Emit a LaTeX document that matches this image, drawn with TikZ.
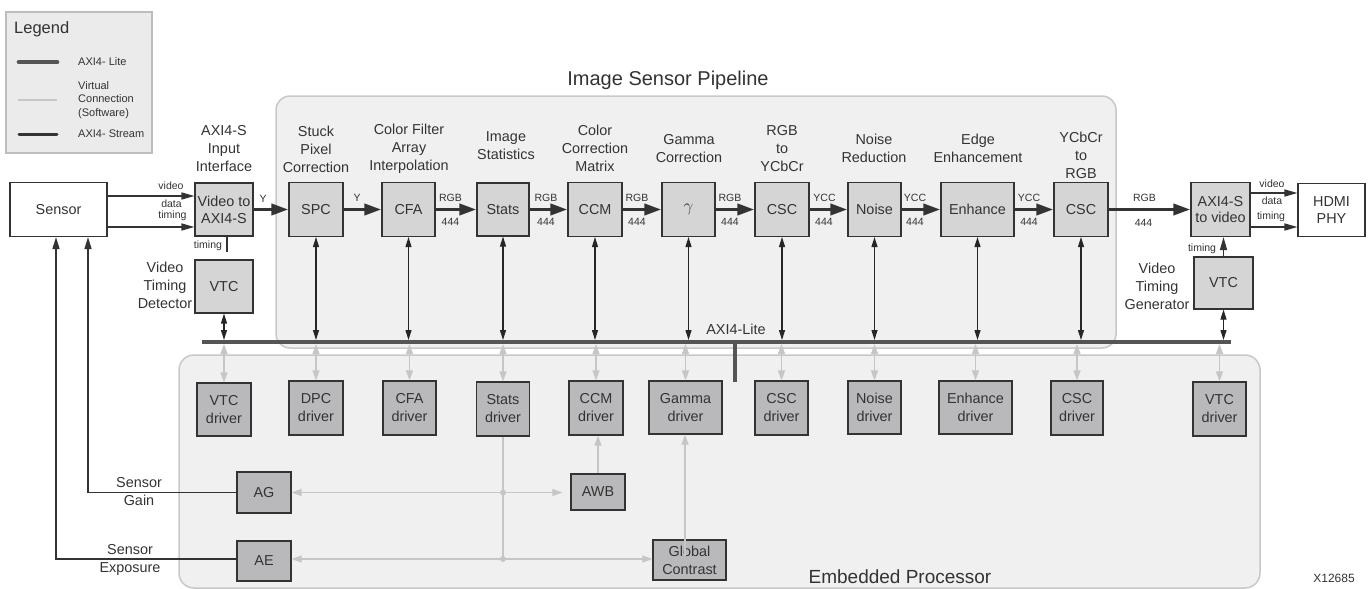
\documentclass[tikz,border=0pt]{standalone}
\usepackage{fontspec}
\setmainfont{Liberation Sans}
\usetikzlibrary{arrows.meta}
\definecolor{txt}{HTML}{333333}
\definecolor{regfill}{HTML}{F0F0F0}
\definecolor{regline}{HTML}{C8C8C8}
\definecolor{pfill}{HTML}{D5D5D5}
\definecolor{dfill}{HTML}{B9B9BC}
\definecolor{boxline}{HTML}{333333}
\definecolor{strm}{HTML}{333333}
\definecolor{busc}{HTML}{555555}
\definecolor{vcol}{HTML}{C6C6C6}
\definecolor{legfill}{HTML}{EBEBEB}
\definecolor{legline}{HTML}{BDBDBD}
\newcommand\fsA{\fontsize{14.4}{18}\selectfont}
\newcommand\fsB{\fontsize{14.4}{16.8}\selectfont}
\newcommand\fsS{\fontsize{10.5}{12}\selectfont}
\newcommand\fsT{\fontsize{20}{24}\selectfont}
\newcommand\fsE{\fontsize{19}{23}\selectfont}
\newcommand\fsL{\fontsize{16.5}{20}\selectfont}
\newcommand\fsLeg{\fontsize{11}{13.5}\selectfont}
\newcommand\fsX{\fontsize{12}{14}\selectfont}
\begin{document}
\begin{tikzpicture}[x=1pt,y=-1pt,
  every node/.style={text=txt, inner sep=0pt},
  pbox/.style={draw=boxline, fill=pfill, line width=1.1pt, font=\fsB, align=center},
  dbox/.style={draw=boxline, fill=dfill, line width=1.1pt, font=\fsA, align=center},
  wbox/.style={draw=boxline, fill=white, line width=1.1pt, font=\fsB, align=center},
  lbl/.style={font=\fsA, align=center},
  sml/.style={font=\fsS},
  stream/.style={draw=strm, line width=3.6pt, -{Triangle[length=17pt,width=11pt]}},
  sig/.style={draw=strm, line width=1.4pt, -{Triangle[length=13pt,width=7pt]}},
  sigl/.style={draw=strm, line width=1.4pt},
  dbl/.style={draw=black!85, line width=1.1pt, {Triangle[length=10pt,width=6pt]}-{Triangle[length=10pt,width=6pt]}},
  virt/.style={draw=vcol, line width=1.3pt, {Triangle[length=10pt,width=7pt]}-{Triangle[length=10pt,width=7pt]}},
  virta/.style={draw=vcol, line width=1.3pt, -{Triangle[length=10pt,width=7pt]}},
  virtl/.style={draw=vcol, line width=1.3pt},
  ctrl/.style={draw=strm, line width=1.4pt, -{Triangle[length=12pt,width=7pt]}},
  busline/.style={draw=busc, line width=4pt}
]
\useasboundingbox (0,0) rectangle (1369,589);

% regions
\draw[rounded corners=14pt, draw=regline, fill=regfill, line width=1.5pt] (276,96) rectangle (1116,348);
\draw[rounded corners=15pt, draw=regline, fill=regfill, line width=1.5pt] (179,355) rectangle (1260,588);
\node[font=\fsT] (ttl1) at (668,80) {Image Sensor Pipeline};
\node[font=\fsE] (ttl2) at (900,577) {Embedded Processor};
\node[font=\fsX] (xid) at (1334,578) {X12685};

% legend
\draw[fill=legfill, draw=legline, line width=1.5pt] (6,12) rectangle (152,153);
\node[font=\fsL, anchor=west] (legt) at (14,29) {Legend};
\coordinate (la1) at (19,62); \coordinate (la2) at (57,62);
\draw[draw=busc, line width=4.7pt, line cap=round] (la1) -- (la2);
\node[font=\fsLeg, anchor=west] (legA) at (78,62) {AXI4- Lite};
\coordinate (lb1) at (18,100); \coordinate (lb2) at (57,100);
\draw[virtl] (lb1) -- (lb2);
\node[font=\fsLeg, anchor=west, align=left] (legB) at (78,100) {Virtual\\Connection\\(Software)};
\coordinate (lc1) at (19,134); \coordinate (lc2) at (57,134);
\draw[draw=strm, line width=3pt, line cap=round] (lc1) -- (lc2);
\node[font=\fsLeg, anchor=west] (legC) at (78,134) {AXI4- Stream};

% bus
\coordinate (busL) at (202,342); \coordinate (busR) at (1231,342);
\coordinate (busT) at (0,340); \coordinate (busB) at (0,344);
\draw[busline] (busL) -- (busR);
\coordinate (stubT) at (735,342); \coordinate (stubB) at (735,382);
\draw[busline] (stubT) -- (stubB);
\node[font=\fsA] (buslbl) at (736,329) {AXI4-Lite};

% main row
\node[wbox, minimum width=97pt, minimum height=54pt] (sensor) at (58.5,209.5) {Sensor};
\node[pbox, minimum width=58pt, minimum height=53pt] (v2a) at (224,209.5) {Video to\\AXI4-S};
\node[pbox, minimum width=58pt, minimum height=53pt] (vtcL) at (224,286.5) {VTC};
\node[pbox, minimum width=54pt, minimum height=54pt] (spc) at (316,209.5) {SPC};
\node[pbox, minimum width=53pt, minimum height=54pt] (cfa) at (408.5,209.5) {CFA};
\node[pbox, minimum width=52pt, minimum height=53pt] (stats) at (503,209.5) {Stats};
\node[pbox, minimum width=54pt, minimum height=54pt] (ccm) at (595,209.5) {CCM};
\node[pbox, minimum width=53pt, minimum height=54pt] (gam) at (688.5,209.5) {\fontsize{17}{17}\selectfont$\gamma$};
\node[pbox, minimum width=54pt, minimum height=54pt] (csc1) at (782,209.5) {CSC};
\node[pbox, minimum width=53pt, minimum height=54pt] (noise) at (874.5,209.5) {Noise};
\node[pbox, minimum width=73pt, minimum height=54pt] (enh) at (977.5,209.5) {Enhance};
\node[pbox, minimum width=54pt, minimum height=54pt] (csc2) at (1081,209.5) {CSC};
\node[pbox, minimum width=59pt, minimum height=54pt] (a2v) at (1220.5,209.5) {AXI4-S\\to video};
\node[wbox, minimum width=67pt, minimum height=53pt] (hdmi) at (1331.5,210) {HDMI\\PHY};
\node[pbox, minimum width=59pt, minimum height=52pt] (vtcR) at (1223.5,283) {VTC};

% labels above
\node[lbl] (l0) at (224,149) {AXI4-S\\Input\\Interface};
\node[lbl] (l1) at (316,149) {Stuck\\Pixel\\Correction};
\node[lbl] (l2) at (409,149) {Color Filter\\Array\\Interpolation};
\node[lbl] (l3) at (506,145.5) {Image\\Statistics};
\node[lbl] (l4) at (595,148.5) {Color\\Correction\\Matrix};
\node[lbl] (l5) at (689,148.5) {Gamma\\Correction};
\node[lbl] (l6) at (782,148.5) {RGB\\to\\YCbCr};
\node[lbl] (l7) at (874,148.5) {Noise\\Reduction};
\node[lbl] (l8) at (978,148.5) {Edge\\Enhancement};
\node[lbl] (l9) at (1081,155.5) {YCbCr\\to\\RGB};
\node[lbl] (l10) at (165,285) {Video\\Timing\\Detector};
\node[lbl] (l11) at (1157,286) {Video\\Timing\\Generator};

% drivers
\node[dbox, minimum width=54pt, minimum height=53pt] (dvtcL) at (224,409.5) {VTC\\driver};
\node[dbox, minimum width=54pt, minimum height=54pt] (ddpc) at (316,408) {DPC\\driver};
\node[dbox, minimum width=53pt, minimum height=54pt] (dcfa) at (409.5,408) {CFA\\driver};
\node[dbox, minimum width=53pt, minimum height=54pt] (dstats) at (503,409) {Stats\\driver};
\node[dbox, minimum width=54pt, minimum height=54pt] (dccm) at (596,408) {CCM\\driver};
\node[dbox, minimum width=73pt, minimum height=53pt] (dgam) at (685.5,407.5) {Gamma\\driver};
\node[dbox, minimum width=53pt, minimum height=54pt] (dcsc1) at (781.5,408) {CSC\\driver};
\node[dbox, minimum width=53pt, minimum height=53pt] (dnoise) at (874.5,407.5) {Noise\\driver};
\node[dbox, minimum width=73pt, minimum height=53pt] (denh) at (975.5,407.5) {Enhance\\driver};
\node[dbox, minimum width=52pt, minimum height=54pt] (dcsc2) at (1077,408) {CSC\\driver};
\node[dbox, minimum width=53pt, minimum height=54pt] (dvtcR) at (1219.5,409) {VTC\\driver};
\node[dbox, minimum width=54pt, minimum height=41pt] (ag) at (264,492.5) {AG};
\node[dbox, minimum width=54pt, minimum height=40pt] (ae) at (264,561) {AE};
\node[dbox, minimum width=54pt, minimum height=36pt] (awb) at (598,492) {AWB};
\node[dbox, minimum width=73pt, minimum height=40pt] (gc) at (689.5,560) {Global\\Contrast};

% stream arrows
\draw[stream] (v2a.east) -- (spc.west);
\draw[stream] (spc.east) -- (cfa.west);
\draw[stream] (cfa.east) -- (stats.west);
\draw[stream] (stats.east) -- (ccm.west);
\draw[stream] (ccm.east) -- (gam.west);
\draw[stream] (gam.east) -- (csc1.west);
\draw[stream] (csc1.east) -- (noise.west);
\draw[stream] (noise.east) -- (enh.west);
\draw[stream] (enh.east) -- (csc2.west);
\draw[stream] (csc2.east) -- (a2v.west);

% stream labels
\node[sml] (y1) at (263,199) {Y};
\node[sml] (y2) at (357,198) {Y};
\node[sml] (r1) at (450.5,198) {RGB}; \node[sml] (n1) at (450.5,222) {444};
\node[sml] (r2) at (546,198) {RGB}; \node[sml] (n2) at (546,222) {444};
\node[sml] (r3) at (637,198) {RGB}; \node[sml] (n3) at (637,222) {444};
\node[sml] (r4) at (730,198) {RGB}; \node[sml] (n4) at (730,222) {444};
\node[sml] (c1) at (824.5,198) {YCC}; \node[sml] (m1) at (824,222) {444};
\node[sml] (c2) at (915,198) {YCC}; \node[sml] (m2) at (915,222) {444};
\node[sml] (c3) at (1029,198) {YCC}; \node[sml] (m3) at (1029,222) {444};
\node[sml] (r5) at (1144.5,198) {RGB}; \node[sml] (n5) at (1143.5,223) {444};

% sensor signals
\draw[sig] ([yshift=13.5pt]sensor.east) -- ([yshift=13.5pt]sensor.east -| v2a.west);
\draw[sig] ([yshift=-17.5pt]sensor.east) -- ([yshift=-17.5pt]sensor.east -| v2a.west);
\node[sml] (sv) at (171,186) {video};
\node[sml] (sd) at (171.5,204) {data};
\node[sml] (st) at (172.5,216) {timing};
\coordinate (tmL) at (227,252);
\draw[sigl] (v2a.south -| tmL) -- (tmL);
\node[sml] (tl) at (208,246) {timing};

% hdmi signals
\draw[sig] ([yshift=16.5pt]a2v.east) -- ([yshift=16.5pt]a2v.east -| hdmi.west);
\draw[sig] ([yshift=-17.5pt]a2v.east) -- ([yshift=-17.5pt]a2v.east -| hdmi.west);
\node[sml] (hv) at (1272,184) {video};
\node[sml] (hd) at (1272,201) {data};
\node[sml] (ht) at (1271,217) {timing};
\draw[sig] (vtcR.north) -- (vtcR.north |- a2v.south);
\node[sml] (tr) at (1202,249) {timing};

% pipeline to bus
\foreach \n in {vtcL,spc,cfa,stats,ccm,gam,csc1,noise,enh,csc2,vtcR}
  \draw[dbl] (\n.south) -- (\n.south |- busT);
% bus to drivers
\foreach \n in {dvtcL,ddpc,dcfa,dstats,dccm,dgam,dcsc1,dnoise,denh,dcsc2,dvtcR}
  \draw[virt] (\n.north |- busB) -- (\n.north);

% software connections
\coordinate (j1) at (503,492.5);
\coordinate (j2) at (503,559);
\draw[virtl] (dstats.south) -- (dstats.south |- j2);
\fill[vcol] (j1) circle (3pt);
\fill[vcol] (j2) circle (3pt);
\draw[virta] (j1) -- (j1 -| ag.east);
\draw[virta, shorten >=8pt] (j1) -- (j1 -| awb.west);
\draw[virta] (j2) -- (j2 -| ae.east);
\draw[virta] (j2) -- (j2 -| gc.west);
\draw[virta] (awb.north) -- (awb.north |- dccm.south);
\coordinate (gcv) at (685,556);
\draw[virta] (gcv) -- (gcv |- dgam.south);

% sensor control
\coordinate (g1) at (88,492.5);
\coordinate (e1) at (56,559);
\draw[ctrl] (ag.west) -- (g1) -- (g1 |- sensor.south);
\draw[ctrl] (ae.west |- e1) -- (e1) -- (e1 |- sensor.south);
\node[lbl] (sg) at (139,492) {Sensor\\Gain};
\node[lbl] (se) at (130,560) {Sensor\\Exposure};
\end{tikzpicture}
\end{document}
